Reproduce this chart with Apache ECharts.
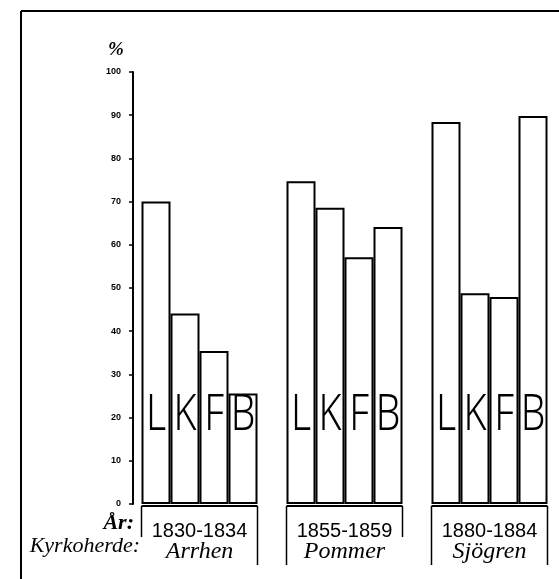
<!DOCTYPE html>
<html>
<head>
<meta charset="utf-8">
<script src="https://cdn.jsdelivr.net/npm/echarts@6/dist/echarts.min.js"></script>
<style>
html,body{margin:0;padding:0;background:#fff;}
#c{width:559px;height:579px;}
</style>
</head>
<body>
<div id="c"></div>
<script>
// ---- data ----
const periods = ['1830-1834', '1855-1859', '1880-1884'];
const priests = ['Arrhen', 'Pommer', 'Sjögren'];
const seriesNames = ['L', 'K', 'F', 'B'];
const valuesL = [70.0, 74.7, 88.4];
const valuesK = [44.1, 68.6, 48.8];
const valuesF = [35.4, 57.1, 47.9];
const valuesB = [25.6, 64.1, 89.8];
const yMin = 0, yMax = 100, yStep = 10;
const yUnit = '%';
const rowLabelYear = 'År:';
const rowLabelPriest = 'Kyrkoherde:';

const seriesValues = [valuesL, valuesK, valuesF, valuesB];

const chart = echarts.init(document.getElementById('c'), null, {renderer: 'canvas'});

const option = {
  backgroundColor: '#fff',
  animation: false,
  title: {
    text: yUnit, left: 103, top: 36,
    textStyle: {fontFamily: 'Liberation Serif', fontStyle: 'italic', fontWeight: 'bold', fontSize: 19, color: '#000'}
  },
  grid: {left: 127, top: 72, width: 435, height: 432, containLabel: false, outerBoundsMode: 'none'},
  xAxis: {
    type: 'category',
    data: periods,
    axisLine: {show: false},
    axisTick: {show: false},
    axisLabel: {
      interval: 0,
      margin: 17,
      formatter: (v, i) => '{y|' + v + '}\n{n|' + priests[i] + '}',
      rich: {
        y: {fontFamily: 'Liberation Sans', fontSize: 20, lineHeight: 20, color: '#000'},
        n: {fontFamily: 'Liberation Serif', fontStyle: 'italic', fontSize: 24, lineHeight: 22, color: '#000'}
      }
    }
  },
  yAxis: {
    type: 'value',
    min: yMin, max: yMax, interval: yStep,
    offset: -6,
    splitLine: {show: false},
    axisLine: {show: true, lineStyle: {color: '#000', width: 2}},
    axisTick: {show: true, length: 4, lineStyle: {color: '#000', width: 1.5}},
    axisLabel: {margin: 12, fontFamily: 'Liberation Sans', fontWeight: 'bold', fontSize: 9, color: '#000'}
  },
  series: seriesNames.map((name, k) => ({
    name: name,
    type: 'bar',
    data: seriesValues[k],
    barGap: '0%',
    barCategoryGap: '20%',
    itemStyle: {color: '#fff', borderColor: '#000', borderWidth: 2}
  }))
};

chart.setOption(option);

// ---- table rules, frame and bar letters derived from the library's layout ----
const centers = periods.map(c => chart.convertToPixel({xAxisIndex: 0}, c));
const catW = centers[1] - centers[0];
const half = catW * 0.4;
const y0 = chart.convertToPixel({yAxisIndex: 0}, 0);
const shortEnd = y0 + 33, longEnd = y0 + 61;
const ruleEnds = [[shortEnd, longEnd], [longEnd, shortEnd], [longEnd, longEnd]];

const graphics = [];
centers.forEach((cx, i) => {
  const xl = cx - half, xr = cx + half;
  graphics.push({type: 'line', shape: {x1: xl, y1: y0 + 2, x2: xr, y2: y0 + 2}, style: {stroke: '#000', lineWidth: 2}});
  graphics.push({type: 'line', shape: {x1: xl, y1: y0 + 2, x2: xl, y2: ruleEnds[i][0]}, style: {stroke: '#000', lineWidth: 1.5}});
  graphics.push({type: 'line', shape: {x1: xr, y1: y0 + 2, x2: xr, y2: ruleEnds[i][1]}, style: {stroke: '#000', lineWidth: 1.5}});
});

// big letters inside each bar (narrowed, like the hand lettering)
const model = chart.getModel();
seriesNames.forEach((name, k) => {
  const data = model.getSeriesByIndex(k).getData();
  for (let i = 0; i < data.count(); i++) {
    const lay = data.getItemLayout(i);
    const cx = lay.x + lay.width / 2;
    const bottom = lay.y; // bar base (height is negative upward)
    graphics.push({
      type: 'text', x: cx, y: bottom - 63, scaleX: 0.78, z: 10,
      style: {text: name, x: 0, y: 0, align: 'center', verticalAlign: 'bottom', lineHeight: 50,
        font: '300 50px "Noto Sans"', fill: '#000'}
    });
  }
});

// outer frame (top and left only)
graphics.push({type: 'line', shape: {x1: 21, y1: 11, x2: 559, y2: 11}, style: {stroke: '#000', lineWidth: 2}});
graphics.push({type: 'line', shape: {x1: 21, y1: 11, x2: 21, y2: 579}, style: {stroke: '#000', lineWidth: 2}});
// row captions
graphics.push({type: 'text', style: {text: rowLabelYear, x: 134, y: y0 + 30, align: 'right', verticalAlign: 'bottom',
  font: 'italic bold 22px "Liberation Serif"', fill: '#000'}});
graphics.push({type: 'text', style: {text: rowLabelPriest, x: 140, y: y0 + 53, align: 'right', verticalAlign: 'bottom',
  font: 'italic 22px "Liberation Serif"', fill: '#000'}});

chart.setOption({graphic: graphics});
</script>
</body>
</html>
